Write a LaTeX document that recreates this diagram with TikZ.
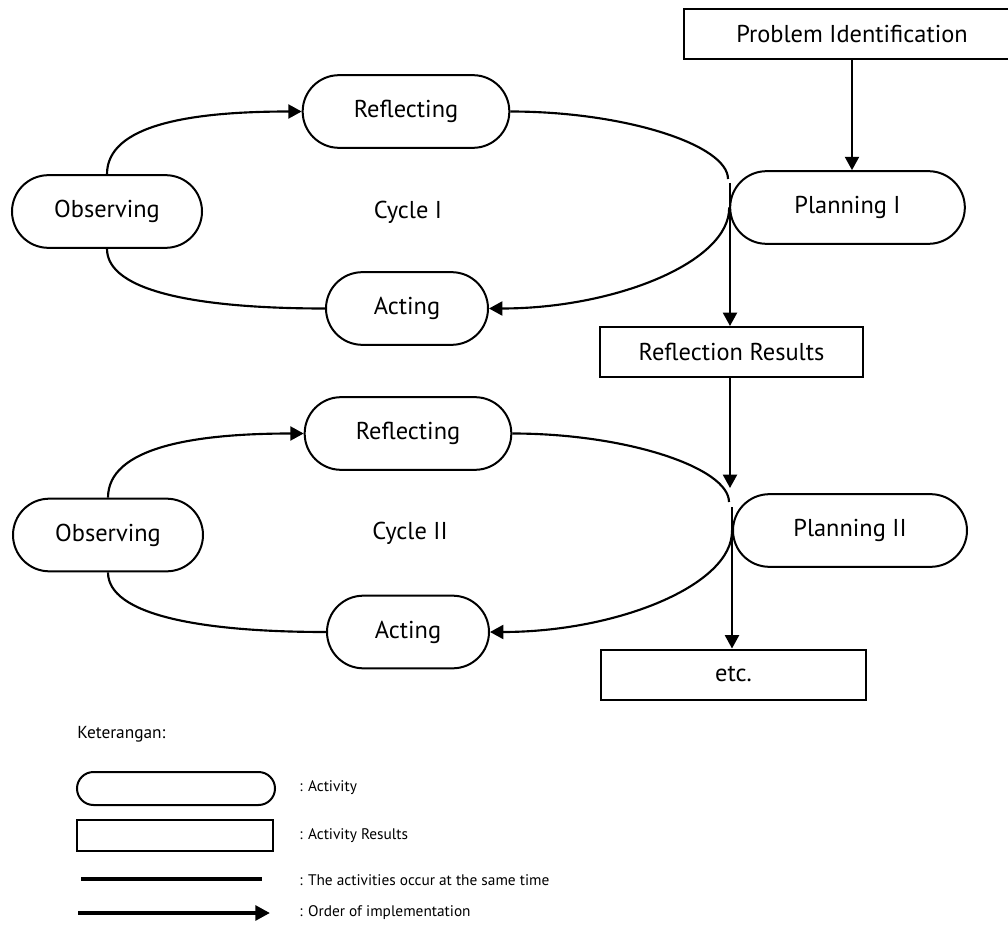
\documentclass[tikz,border=0pt]{standalone}
\usepackage{fontspec}
\setmainfont{PT Sans}
\usetikzlibrary{shapes.misc,arrows.meta}
\begin{document}
\begin{tikzpicture}[x=0.75pt,y=-0.75pt,
  mainfont/.style={font=\fontsize{18.3}{21}\selectfont},
  act/.style={draw, line width=1.5pt, rounded rectangle, minimum height=54.5pt, inner sep=0pt, mainfont},
  res/.style={draw, line width=1.5pt, rectangle, minimum height=37.5pt, inner sep=0pt, mainfont},
  lbl/.style={inner sep=0pt, mainfont},
  conn/.style={line width=1.6pt},
  arr/.style={conn, -{Triangle[length=10pt,width=10.5pt]}},
  legtext/.style={inner sep=0pt, anchor=west, font=\fontsize{11.5}{14}\selectfont},
  legline/.style={line width=3pt},
]
\useasboundingbox (0,0) rectangle (1008,931);
\clip (0,0) rectangle (1008,931);

% top
\node[res, minimum width=252pt] (pid) at (852,34) {Problem Identification};
\node[act, minimum width=176pt] (pl1) at (847.5,207.5) {Planning I};
\node[act, minimum width=155pt] (ref1) at (406,111.5) {Reflecting};
\node[act, minimum width=142.5pt] (obs1) at (107,211.5) {Observing};
\node[act, minimum width=121.5pt] (act1) at (407,308.5) {Acting};
\node[lbl] (cyc1) at (408,212) {Cycle I};
\node[res, minimum width=197pt] (rr) at (731.5,352) {Reflection Results};

\node[act, minimum width=155pt] (ref2) at (408,433.5) {Reflecting};
\node[act, minimum width=142.5pt] (obs2) at (108,535) {Observing};
\node[act, minimum width=121.5pt] (act2) at (408,632) {Acting};
\node[act, minimum width=175.5pt] (pl2) at (850,530.5) {Planning II};
\node[lbl] (cyc2) at (410,533) {Cycle II};
\node[res, minimum width=199pt] (etc) at (733.5,674.5) {etc.};

\coordinate (c1top) at (728,179);
\coordinate (c1b) at (730,183);
\coordinate (c2a) at (730,488);
\coordinate (c2top) at (729,502);
\coordinate (c2b) at (732,507);

% cycle I
\draw[arr] (pid.south -| 852,0) -- (pl1.north -| 852,0);
\draw[arr] (obs1.north) .. controls (107,125) and (190,111.5) .. (ref1.west);
\draw[conn] (obs1.south) .. controls (107,292) and (200,308.5) .. (act1.west);
\draw[conn] (ref1.east) .. controls (625,111.5) and (728,145) .. (c1top);
\draw[arr] (pl1.west) .. controls (730,262) and (615,308.5) .. (act1.east);
\draw[arr] (c1b) -- (c1b |- rr.north);

% cycle II
\draw[arr] (c2a |- rr.south) -- (c2a);
\draw[arr] (obs2.north) .. controls (108,448) and (192,433.5) .. (ref2.west);
\draw[conn] (obs2.south) .. controls (108,615) and (201,632) .. (act2.west);
\draw[conn] (ref2.east) .. controls (627,433.5) and (729,468) .. (c2top);
\draw[arr] (pl2.west) .. controls (733,585) and (617,632) .. (act2.east);
\draw[arr] (c2b) -- (c2b |- etc.north);

% legend
\node[legtext, anchor=base west, font=\fontsize{13}{15}\selectfont] (ket) at (77,738) {Keterangan:};
\node[draw, line width=1.5pt, rounded rectangle, minimum width=148.5pt, minimum height=24.75pt, inner sep=0pt] (lgact) at (176,788.5) {};
\node[draw, line width=1.5pt, rectangle, minimum width=147pt, minimum height=23.25pt, inner sep=0pt] (lgres) at (175,835.5) {};
\coordinate (l1a) at (81,879);
\coordinate (l1b) at (262,879);
\coordinate (l2a) at (78,913);
\coordinate (l2b) at (270,913);
\draw[legline] (l1a) -- (l1b);
\draw[legline, -{Triangle[length=11pt,width=11pt]}] (l2a) -- (l2b);
\node[legtext] (t1) at (299,788) {: Activity};
\node[legtext] (t2) at (299,836) {: Activity Results};
\node[legtext] (t3) at (299,880) {: The activities occur at the same time};
\node[legtext] (t4) at (299,913) {: Order of implementation};
\end{tikzpicture}
\end{document}
